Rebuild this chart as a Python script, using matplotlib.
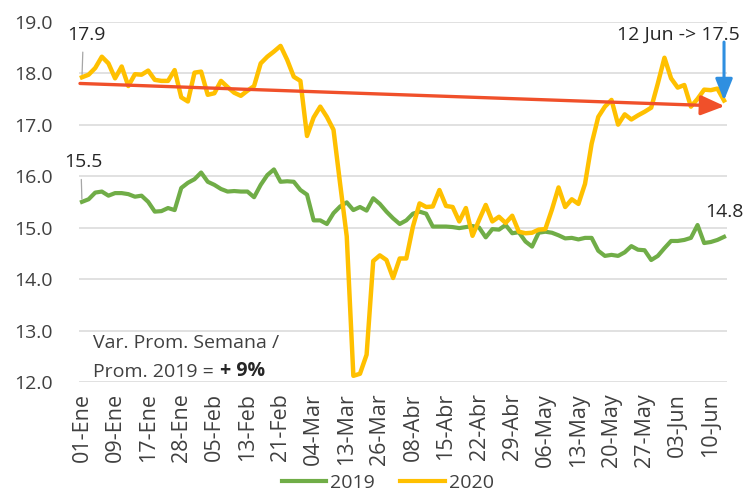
import matplotlib
matplotlib.use('Agg')
import matplotlib.pyplot as plt
from matplotlib.lines import Line2D
import numpy as np

plt.rcParams['font.family'] = ['Open Sans', 'DejaVu Sans']

# ---------------- data ----------------
values_2019 = [15.50, 15.55, 15.68, 15.70, 15.62, 15.67, 15.67, 15.65, 15.60, 15.62,
               15.50, 15.31, 15.32, 15.38, 15.34, 15.77, 15.87, 15.94, 16.07, 15.89,
               15.83, 15.75, 15.70, 15.71, 15.70, 15.70, 15.59, 15.83, 16.02, 16.13,
               15.89, 15.90, 15.89, 15.73, 15.64, 15.14, 15.14, 15.07, 15.28, 15.41,
               15.49, 15.34, 15.40, 15.33, 15.57, 15.46, 15.31, 15.18, 15.07, 15.14,
               15.27, 15.31, 15.27, 15.02, 15.02, 15.02, 15.01, 14.99, 15.01, 15.03,
               15.00, 14.81, 14.97, 14.96, 15.05, 14.89, 14.91, 14.73, 14.63, 14.90,
               14.92, 14.90, 14.85, 14.79, 14.80, 14.77, 14.80, 14.80, 14.55, 14.45,
               14.47, 14.45, 14.52, 14.64, 14.57, 14.56, 14.37, 14.45, 14.60, 14.74,
               14.74, 14.76, 14.80, 15.05, 14.70, 14.72, 14.76, 14.82]

values_2020 = [17.92, 17.97, 18.10, 18.32, 18.19, 17.90, 18.13, 17.75, 17.98, 17.97,
               18.05, 17.87, 17.85, 17.85, 18.06, 17.53, 17.45, 18.01, 18.03, 17.58,
               17.61, 17.85, 17.73, 17.62, 17.56, 17.66, 17.75, 18.19, 18.32, 18.42,
               18.53, 18.26, 17.93, 17.85, 16.78, 17.14, 17.35, 17.15, 16.90, 15.85,
               14.83, 12.12, 12.16, 12.53, 14.35, 14.46, 14.37, 14.02, 14.40, 14.40,
               15.02, 15.47, 15.40, 15.41, 15.73, 15.42, 15.40, 15.12, 15.38, 14.84,
               15.15, 15.44, 15.12, 15.21, 15.09, 15.23, 14.92, 14.89, 14.90, 14.96,
               14.97, 15.35, 15.78, 15.40, 15.55, 15.46, 15.85, 16.63, 17.15, 17.35,
               17.48, 17.00, 17.20, 17.10, 17.18, 17.25, 17.33, 17.80, 18.30, 17.90,
               17.72, 17.77, 17.35, 17.50, 17.68, 17.67, 17.70, 17.47]

tick_labels = ['01-Ene', '09-Ene', '17-Ene', '28-Ene', '05-Feb', '13-Feb', '21-Feb',
               '04-Mar', '13-Mar', '26-Mar', '08-Abr', '15-Abr', '22-Abr', '29-Abr',
               '06-May', '13-May', '20-May', '27-May', '03-Jun', '10-Jun']
tick_step = 5
y_ticks = [12, 13, 14, 15, 16, 17, 18, 19]
series_names = ['2019', '2020']
trend_start = 17.80
trend_end = 17.36
last_day = '12 Jun'
note_line1 = 'Var. Prom. Semana /'
note_line2 = 'Prom. 2019 ='
note_bold = '+ 9%'

# ---------------- style ----------------
GREEN = '#70AD47'
YELLOW = '#FFC000'
RED = '#F0502A'
BLUE = '#2F8FE0'
GRID = '#D9D9D9'
TXT = '#404040'
DARK = '#262626'

W, H = 743, 497
fig = plt.figure(figsize=(W / 100, H / 100), dpi=100)
ax = fig.add_axes([79 / W, 1 - 382 / H, (727 - 79) / W, (382 - 21.7) / H])

x = np.arange(len(values_2020))
ax.plot(x, values_2019, color=GREEN, lw=3.0, solid_joinstyle='round', zorder=3)
ax.plot(x, values_2020, color=YELLOW, lw=3.2, solid_joinstyle='round', zorder=4)

ax.set_xlim(-0.45, len(x) - 1 + 0.45)
ax.set_ylim(y_ticks[0], y_ticks[-1])
ax.set_yticks(y_ticks)
ax.set_yticklabels([f'{v:.1f}' for v in y_ticks])
ax.set_xticks(x[::tick_step])
ax.set_xticklabels(tick_labels, rotation=90)
ax.grid(axis='y', color=GRID, lw=1.1)
ax.set_axisbelow(True)
for s in ax.spines.values():
    s.set_visible(False)
ax.tick_params(length=0, labelsize=14, colors=TXT)
ax.tick_params(axis='x', pad=8, labelsize=15.5)
ax.tick_params(axis='y', pad=19)

# trend arrow
ax.annotate('', xy=(len(x) - 1 + 0.1, trend_end), xytext=(-0.3, trend_start),
            arrowprops=dict(arrowstyle='-|>,head_length=1.2,head_width=0.5',
                            color=RED, lw=2.4, mutation_scale=12,
                            shrinkA=0, shrinkB=0),
            zorder=6)

# blue arrow + last-day label
ax.annotate('', xy=(len(x) - 1, values_2020[-1]), xytext=(0, 42), textcoords='offset points',
            arrowprops=dict(arrowstyle='-|>,head_length=1.0,head_width=0.4',
                            color=BLUE, lw=2.2, mutation_scale=13,
                            shrinkA=0, shrinkB=0),
            zorder=7, annotation_clip=False)
ax.annotate(f'{last_day} -> {values_2020[-1]:.1f}', xy=(len(x) - 1, values_2020[-1]),
            xytext=(11, 44), textcoords='offset points', ha='right', va='baseline',
            fontsize=14, color=DARK, annotation_clip=False)

# first / last value labels
ax.annotate(f'{values_2020[0]:.1f}', xy=(0, values_2020[0]), xytext=(3, 27),
            textcoords='offset points', ha='center', va='baseline', fontsize=14, color=DARK,
            arrowprops=dict(arrowstyle='-', color='#A6A6A6', lw=0.9, shrinkA=4, shrinkB=2,
                            relpos=(0.42, 0)),
            annotation_clip=False)
ax.annotate(f'{values_2019[0]:.1f}', xy=(0, values_2019[0]), xytext=(1, 25),
            textcoords='offset points', ha='center', va='baseline', fontsize=14, color=DARK,
            arrowprops=dict(arrowstyle='-', color='#A6A6A6', lw=0.9, shrinkA=4, shrinkB=2,
                            relpos=(0.44, 0)),
            annotation_clip=False)
ax.annotate(f'{values_2019[-1]:.1f}', xy=(len(x) - 1, values_2019[-1]), xytext=(0, 14),
            textcoords='offset points', ha='center', va='baseline', fontsize=14, color=DARK,
            annotation_clip=False)

# note text
ax.text(0.022, 0.094, note_line1, transform=ax.transAxes, fontsize=14, color=TXT,
        ha='left', va='baseline')
t2 = ax.text(0.022, 0.013, note_line2, transform=ax.transAxes, fontsize=14, color=TXT,
             ha='left', va='baseline')
ax.annotate(note_bold, xy=(1, 0), xycoords=t2, xytext=(4, 0), textcoords='offset points',
            ha='left', va='bottom', fontsize=14, color=DARK, fontweight='bold')

# legend
handles = [Line2D([0], [0], color=GREEN, lw=3.0), Line2D([0], [0], color=YELLOW, lw=3.0)]
fig.legend(handles, series_names, loc='lower center', bbox_to_anchor=(0.522, -0.025), ncol=2,
           frameon=False, handlelength=2.3, handletextpad=0.2, columnspacing=1.3,
           fontsize=14, labelcolor=TXT)

fig.savefig('out.png', dpi=100)
